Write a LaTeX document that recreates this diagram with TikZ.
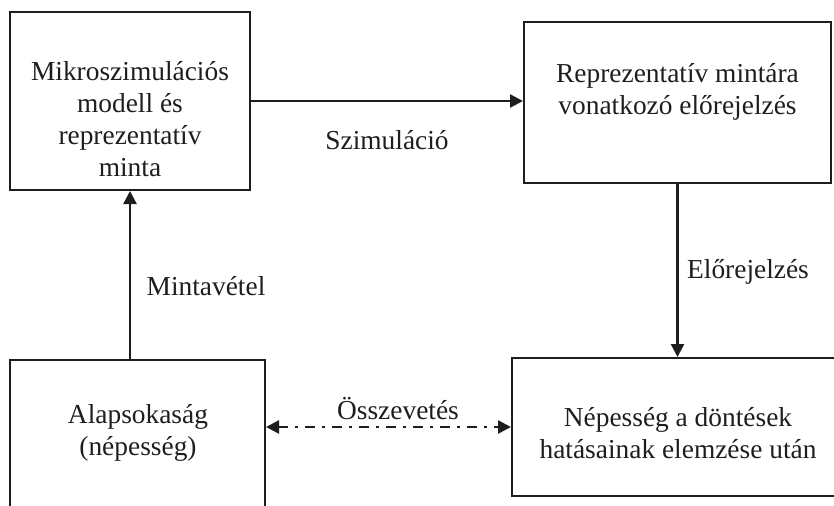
\documentclass[tikz,border=0pt]{standalone}
\usepackage{fontspec}
\setmainfont{Liberation Serif}
\usetikzlibrary{arrows.meta}
\definecolor{ink}{RGB}{30,30,30}
\begin{document}
\begin{tikzpicture}[x=0.5pt,y=-0.5pt,
  box/.style={draw=ink,line width=1pt,rectangle,inner sep=0pt},
  txt/.style={text=ink,align=center,font=\fontsize{13.7pt}{16pt}\selectfont,inner sep=0pt},
  conn/.style={draw=ink,line width=1.2pt,-{Triangle[length=6.5pt,width=6.5pt]}},
  cmp/.style={draw=ink,line width=1.2pt,{Triangle[length=6.5pt,width=6.5pt]}-{Triangle[length=6.5pt,width=6.5pt]},dash pattern=on 5pt off 3.5pt on 1.5pt off 3.5pt}]
\useasboundingbox (0,0) rectangle (834,505);
\clip (0,0) rectangle (834,505);
\node[box,minimum width=120pt,minimum height=89pt] (b1) at (130,101) {};
\node[box,minimum width=153.5pt,minimum height=80.5pt] (b2) at (677.5,102.5) {};
\node[box,minimum width=127.5pt,minimum height=80pt] (b3) at (137.5,440) {};
\node[box,minimum width=166.5pt,minimum height=69pt] (b4) at (678.5,427) {};
\node[txt] (t1) at (130,119) {Mikroszimulációs\\modell és\\reprezentatív\\minta};
\node[txt] (t2) at (677.5,92) {Reprezentatív mintára\\vonatkozó előrejelzés};
\node[txt] (t3) at (138,433) {Alapsokaság\\(népesség)};
\node[txt] (t4) at (678,433) {Népesség a döntések\\hatásainak elemzése után};
\draw[conn] (b1.east) -- (b1.east -| b2.west) coordinate (e1);
\draw[conn] (b3.north -| b1.south) -- (b1.south);
\draw[conn] (b2.south) -- (b2.south |- b4.north);
\draw[cmp] (b4.west -| b3.east) -- (b4.west);
\node[txt] (l1) at (387,140) {Szimuláció};
\node[txt] (l2) at (206,286) {Mintavétel};
\node[txt] (l3) at (748,272) {Előrejelzés};
\node[txt] (l4) at (398,409) {Összevetés};
\end{tikzpicture}
\end{document}
